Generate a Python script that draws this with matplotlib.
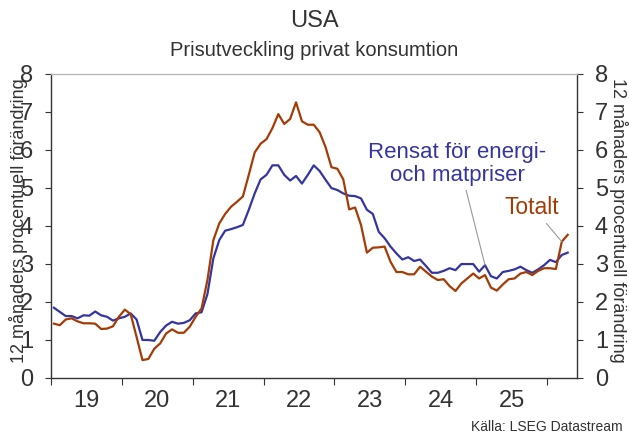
import numpy as np
import matplotlib
matplotlib.use("Agg")
import matplotlib.pyplot as plt

plt.rcParams['font.family'] = ['Liberation Sans', 'DejaVu Sans']

# Månadsdata jan 2019 - apr 2026, årlig procentuell förändring
start_year = 2019
core = [1.84, 1.73, 1.62, 1.62, 1.56, 1.64, 1.63, 1.74, 1.64, 1.60, 1.50, 1.56,
        1.60, 1.69, 1.53, 0.99, 0.99, 0.97, 1.20, 1.37, 1.47, 1.42, 1.44, 1.51,
        1.69, 1.72, 2.20, 3.14, 3.62, 3.87, 3.91, 3.96, 4.02, 4.42, 4.85, 5.22,
        5.34, 5.59, 5.59, 5.34, 5.19, 5.31, 5.11, 5.34, 5.59, 5.44, 5.21, 4.99,
        4.94, 4.85, 4.79, 4.78, 4.72, 4.42, 4.31, 3.84, 3.67, 3.45, 3.27, 3.11,
        3.17, 3.07, 3.11, 2.94, 2.76, 2.76, 2.81, 2.88, 2.83, 2.99, 2.99, 2.99,
        2.79, 2.96, 2.67, 2.61, 2.78, 2.81, 2.85, 2.92, 2.83, 2.76, 2.85, 2.96,
        3.10, 3.04, 3.23, 3.29]
total = [1.42, 1.38, 1.53, 1.56, 1.48, 1.43, 1.43, 1.42, 1.28, 1.29, 1.35, 1.60,
         1.79, 1.67, 1.07, 0.46, 0.49, 0.76, 0.90, 1.16, 1.27, 1.18, 1.18, 1.34,
         1.60, 1.82, 2.57, 3.62, 4.06, 4.31, 4.50, 4.63, 4.77, 5.34, 5.93, 6.16,
         6.28, 6.57, 6.94, 6.68, 6.81, 7.25, 6.75, 6.66, 6.66, 6.46, 6.07, 5.54,
         5.50, 5.22, 4.43, 4.48, 4.02, 3.29, 3.42, 3.43, 3.45, 3.05, 2.78, 2.78,
         2.72, 2.72, 2.92, 2.79, 2.66, 2.57, 2.59, 2.41, 2.28, 2.48, 2.61, 2.74,
         2.61, 2.70, 2.37, 2.29, 2.45, 2.59, 2.61, 2.74, 2.78, 2.70, 2.81, 2.88,
         2.88, 2.86, 3.58, 3.76]
year_labels = ['19', '20', '21', '22', '23', '24', '25']

x = start_year + (np.arange(len(core)) + 0.5) / 12

BLUE = '#3535a2'
ORANGE = '#a53b05'
DARK = '#333333'

fig = plt.figure(figsize=(6.29, 4.37), dpi=100)
ax = fig.add_axes([0.081, 0.136, 0.836, 0.695])

ax.plot(x, core, color=BLUE, lw=1.6, solid_joinstyle='round')
ax.plot(x, total, color=ORANGE, lw=1.6, solid_joinstyle='round')

ax.set_xlim(2019, 2026.42)
ax.set_ylim(0, 8)
ax.set_yticks(range(0, 9))

# år-ticks vid årsskiften, etiketter mitt i året
ax.set_xticks(range(2019, 2027))
ax.set_xticklabels([])
ax.set_xticks([2019.5 + k for k in range(len(year_labels))], minor=True)
ax.set_xticklabels(year_labels, minor=True)
ax.tick_params(axis='x', which='minor', length=0, pad=9, labelsize=17, labelcolor=DARK)
ax.tick_params(axis='x', which='major', length=5, direction='out', color=DARK)
ax.tick_params(axis='y', length=4, direction='out', color=DARK, labelsize=17,
               labelcolor=DARK, right=True, labelright=True, pad=9)

for side in ['left', 'right', 'bottom']:
    ax.spines[side].set_color(DARK)
    ax.spines[side].set_linewidth(1.0)
ax.spines['top'].set_color('#b8b8b8')
ax.spines['top'].set_linewidth(1.0)

# y-etiketten ligger delvis under siffrorna, som i originalet
ylab = '12 månaders procentuell förändring'
fig.text(0.030, 0.495, ylab, rotation=90, ha='center', va='center', fontsize=13, color=DARK)
fig.text(0.983, 0.495, ylab, rotation=270, ha='center', va='center', fontsize=13, color=DARK)

fig.text(0.5, 0.953, 'USA', ha='center', va='center', fontsize=17, color=DARK)
fig.text(0.5, 0.885, 'Prisutveckling privat konsumtion', ha='center', va='center',
         fontsize=14.5, color=DARK)
fig.text(0.99, 0.008, 'Källa: LSEG Datastream', ha='right', va='bottom', fontsize=10, color=DARK)

ax.annotate('Rensat för energi-\noch matpriser', xy=(x[73], core[73]), xytext=(2024.73, 5.63),
            ha='center', va='center', fontsize=16, color=BLUE, linespacing=1.15,
            arrowprops=dict(arrowstyle='-', color='#999999', lw=0.8,
                            shrinkA=1, shrinkB=0, relpos=(0.545, 0.0)))
ax.annotate('Totalt', xy=(x[86], total[86]), xytext=(2025.78, 4.49),
            ha='center', va='center', fontsize=16.5, color=ORANGE,
            arrowprops=dict(arrowstyle='-', color='#999999', lw=0.8,
                            shrinkA=2, shrinkB=0, relpos=(0.70, 0.0)))

fig.savefig('out.png', dpi=100)
